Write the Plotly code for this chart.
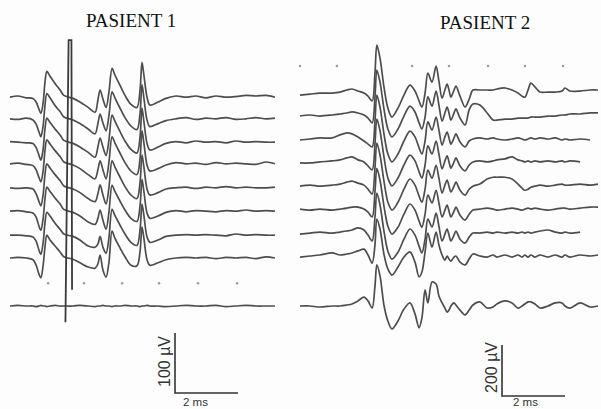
import plotly.graph_objects as go

# ---------------- DATA ----------------
panel_titles = ["PASIENT 1", "PASIENT 2"]

# Panel 1 – sample times (ms) shared by all sweeps, amplitudes in µV
p1_time_ms = [0.00, 0.25, 0.51, 0.73, 0.83, 0.92, 0.98, 1.05, 1.11, 1.17, 1.27, 1.43, 1.59, 1.71,
              2.00, 2.22, 2.48, 2.70, 2.79, 2.86, 2.95, 3.05, 3.14, 3.24, 3.33, 3.49, 3.65, 3.84,
              4.03, 4.13, 4.19, 4.25, 4.35, 4.44, 4.70, 4.95, 5.27, 5.59, 5.90, 6.22, 6.54, 6.86,
              7.17, 7.49, 7.81, 8.13, 8.41]
p1_sweep1 = [0, 2, -1, -2, -8, -20, -27, -10, 25, 43, 35, 23, 12, 3, -2, -8, -17, -25, -5, 12, -3, -17, 8, 48,
             37, 20, 3, -12, -17, 13, 58, 37, 0, -13, -8, -2, 2, 0, 2, -1, 2, 0, 1, 3, 2, 3, 0]
p1_sweep2 = [0, -1, 1, -2, -9, -22, -30, -12, 22, 42, 35, 22, 12, 3, -2, -8, -17, -25, -8, 8, -7, -20, 5, 45,
             35, 18, 2, -12, -18, 10, 57, 35, -2, -13, -8, -3, 0, 2, -1, 1, 0, 2, -1, 0, 2, 0, 1]
p1_sweep3 = [1, 0, -1, -2, -9, -22, -30, -12, 22, 40, 33, 22, 12, 3, -2, -8, -17, -25, -8, 7, -8, -22, 3, 45,
             35, 18, 2, -12, -18, 10, 57, 35, -2, -13, -8, -2, 1, -1, 2, 0, 1, -1, 2, 0, 1, 0, 0]
p1_sweep4 = [0, 1, -1, -3, -10, -23, -30, -12, 22, 40, 33, 22, 12, 3, -2, -8, -18, -25, -10, 5, -10, -25, 2, 45,
             35, 18, 2, -12, -18, 10, 55, 35, -2, -12, -8, -2, 2, 0, 1, -1, 2, 0, 1, 0, -1, 3, 0]
p1_sweep5 = [0, -1, 0, -2, -10, -23, -30, -12, 22, 40, 33, 22, 12, 3, -2, -8, -18, -23, -10, 5, -12, -27, 0, 45,
             35, 18, 2, -12, -18, 10, 55, 35, -2, -12, -8, -2, 0, 1, -1, 1, 0, 2, 0, 1, 0, 0, 1]
p1_sweep6 = [0, 1, -1, -3, -10, -25, -32, -13, 20, 40, 33, 22, 12, 3, -2, -8, -18, -22, -12, 2, -15, -30, -2, 43,
             33, 17, 2, -12, -17, 10, 53, 33, -3, -12, -8, -2, 1, -1, 1, 0, -1, 1, 0, 2, 0, 1, 0]
p1_sweep7 = [0, 0, -1, -3, -10, -25, -32, -13, 20, 38, 32, 20, 10, 2, -2, -8, -18, -20, -15, -2, -20, -30, -5, 43,
             33, 17, 2, -12, -17, 10, 52, 33, -3, -12, -8, -2, 0, 1, 0, 1, 0, -1, 2, 0, 1, 0, 0]
p1_sweep8 = [0, 1, 0, -3, -12, -27, -33, -13, 18, 38, 30, 20, 10, 2, -2, -8, -15, -17, -10, 5, -20, -32, -8, 45,
             33, 17, 2, -12, -13, 12, 52, 33, -3, -12, -8, -3, 0, 1, 0, 1, -1, 1, 0, 1, -1, 2, 0]
p1_reference = [0, 1, 0, 0, -1, 0, 1, 0, 0, -1, 0, 1, 0, 0, 0, 1, 0, -1, 0, 0, 1, 0, 0, -1, 0,
                0, 1, 0, 0, -1, 0, 0, 1, 0, 0, -1, 0, 1, 0, 0, 1, -1, 0, 1, 0, 0, 0]
# stimulus artefact (ms, µV on panel-1 axis)
p1_artifact_ms = [1.76, 1.86, 1.95, 1.97]
p1_artifact_uv = [-27, 443, 443, 27]

# Panel 2 – sample times (ms) and amplitudes (µV)
p2_time_ms = [0.00, 0.32, 0.63, 1.02, 1.27, 1.49, 1.65, 1.84, 2.03, 2.16, 2.29, 2.38, 2.44, 2.54, 2.67,
              2.79, 2.92, 3.11, 3.30, 3.49, 3.65, 3.78, 3.87, 3.97, 4.06, 4.19, 4.32, 4.41, 4.51, 4.60,
              4.67, 4.73, 4.79, 4.89, 4.95, 5.08, 5.24, 5.37, 5.49, 5.71, 5.94, 6.13, 6.25, 6.51, 6.73,
              6.92, 7.05, 7.14, 7.24, 7.33, 7.46, 7.62, 7.87, 8.10, 8.32, 8.41, 8.57, 8.89, 9.21, 9.46]
p2_sweep1 = [-8, -4, 0, 0, 4, 12, 16, 8, 0, -12, -31, 78, 188, 137, 20, -59, -94, -59, -8, 31, 8, -31, -55, 0,
             78, 43, 106, 47, -20, 12, 35, 12, -16, 12, 27, -12, -55, -24, 12, 12, 12, 12, 16, 20, 12, 0,
             -12, -16, 12, 39, 24, 4, 4, 4, 8, 20, 8, 8, 12, 12]
p2_sweep2 = [-4, 0, -4, 0, 4, 8, 12, 8, 0, -12, -31, 71, 176, 129, 20, -55, -86, -55, -4, 35, 12, -31, -55, -8,
             71, 35, 94, 39, -24, 8, 31, 8, -20, 8, 24, -12, -39, 20, 43, 39, 8, -20, -20, -16, -16, -12,
             -12, -12, -12, -8, -8, -8, -4, -4, 0, 0, 4, 4, 8, 8]
p2_sweep3 = [-4, 0, 4, 4, 16, 24, 20, 8, -8, -20, -31, 71, 172, 125, 16, -59, -90, -59, -8, 31, 8, -35, -59, -8,
             67, 35, 86, 35, -24, 8, 27, 4, -20, 4, 20, -12, -31, -8, 0, 4, 0, 4, 0, -4, 0, 4, 0, -4, 0, 4,
             0, 4, 0, 4, -4, 0, -4, 0, -4, None]
p2_sweep4 = [-4, -4, 0, 4, 8, 16, 20, 8, 0, -16, -31, 71, 168, 122, 16, -63, -94, -63, -12, 27, 4, -39, -63, -12,
             63, 31, 82, 31, -27, 4, 24, 0, -24, 0, 16, -16, -35, -12, 0, 4, 0, 4, 8, 12, 20, 8, 4, 0, 4, 0,
             4, 0, 4, 0, 4, 0, 4, 0, None, None]
p2_sweep5 = [-4, 0, -4, 0, 4, 12, 16, 8, 0, -16, -35, 67, 165, 118, 12, -67, -98, -67, -16, 24, 0, -43, -67, -16,
             59, 27, 78, 27, -31, 0, 20, -4, -27, -4, 12, -20, -39, -16, -4, 4, 24, 31, 31, 31, 24, 4, -12,
             -20, -16, -8, -4, 0, -4, 0, 4, 0, 0, 4, 0, 4]
p2_sweep6 = [0, -4, 0, -4, 0, 4, 8, 8, 0, -12, -31, 67, 160, 114, 8, -67, -98, -71, -20, 20, -4, -47, -71, -20,
             55, 24, 74, 24, -31, -4, 16, -8, -31, -8, 8, -24, -43, -20, -4, 0, 4, 0, -4, 0, 4, 0, -4, 0, 4,
             0, 4, 0, -4, 0, 4, 4, 0, 4, 8, 8]
p2_sweep7 = [-4, 0, 4, 0, 4, 8, 12, 20, 12, -8, -31, 63, 157, 110, 4, -71, -102, -75, -24, 16, -8, -51, -78, -24,
             55, 24, 78, 27, -31, -4, 16, -8, -31, -8, 8, -24, -39, -16, 0, 0, 4, 0, 4, 0, 4, 0, 4, 0, 4, 0,
             4, 8, 12, 4, 0, 4, 0, 4, None, None]
p2_sweep8 = [0, 4, 8, 16, 8, 12, 16, 24, 31, 8, -24, 47, 149, 110, 8, -47, -71, -39, 0, 20, -20, -78, -59, 20,
             94, 39, 98, 47, 8, -12, 4, -8, -16, 0, 4, -20, -31, -8, 12, 4, 0, 8, 0, 8, 0, 8, 0, 8, 0, 8,
             0, 8, 0, 8, 0, 8, 0, 8, 4, 8]
p2_sweep9 = [0, 0, -4, 0, 0, 4, 8, 20, 35, 20, -8, 78, 161, 118, 0, -59, -90, -59, -12, 12, -31, -86, -47, 63,
             12, 94, 86, 39, 12, -8, -24, -16, 0, 12, 4, -16, -35, -16, 4, 16, -8, -4, 8, 20, 12, -8, 0, 8,
             16, 16, 8, -8, 0, 12, 12, 0, -8, 12, -4, 0]

# calibration bars
p1_cal_ms, p1_cal_uv = 2, 100
p2_cal_ms, p2_cal_uv = 2, 200
p1_cal_labels = ["100 µV", "2 ms"]
p2_cal_labels = ["200 µV", "2 ms"]

# faint grid dots of the recording paper
p1_dots_ms = [1.21, 2.35, 3.56, 4.73, 5.97, 7.21]
p2_dots_ms = [0.00, 1.17, 3.56, 4.73, 5.97, 7.14, 8.35]

# ---------------- LAYOUT CONSTANTS ----------------
W, H = 601, 409
PX_PER_MS = 31.5
P1_PX_PER_UV = 0.6           # 100 µV = 60 px
P2_PX_PER_UV = 51 / 200      # 200 µV = 51 px
P1_X0, P2_X0, Y0 = 10, 300, 306   # pixel position of t=0 / 0 µV
p1_offsets = [348, 312, 273, 237, 197, 158, 118, 80]   # stacking of sweeps (µV)
p2_offsets = [835, 749, 655, 565, 474, 380, 286, 192]
LINE = dict(color="#4d4d4d", width=1.7, shape="spline", smoothing=0.9)

fig = go.Figure()

p1_sweeps = [p1_sweep1, p1_sweep2, p1_sweep3, p1_sweep4, p1_sweep5, p1_sweep6, p1_sweep7, p1_sweep8]
for off, sw in zip(p1_offsets, p1_sweeps):
    fig.add_trace(go.Scatter(x=p1_time_ms, y=[off + v for v in sw], mode="lines", line=LINE,
                             xaxis="x", yaxis="y", hoverinfo="skip"))
fig.add_trace(go.Scatter(x=p1_time_ms, y=p1_reference, mode="lines", line=LINE,
                         xaxis="x", yaxis="y", hoverinfo="skip"))
fig.add_trace(go.Scatter(x=p1_artifact_ms, y=p1_artifact_uv, mode="lines",
                         line=dict(color="#3a3a3a", width=1.8), xaxis="x", yaxis="y"))

p2_sweeps = [p2_sweep1, p2_sweep2, p2_sweep3, p2_sweep4, p2_sweep5, p2_sweep6, p2_sweep7, p2_sweep8]
for off, sw in zip(p2_offsets, p2_sweeps):
    fig.add_trace(go.Scatter(x=p2_time_ms, y=[None if v is None else off + v for v in sw], mode="lines",
                             line=LINE, xaxis="x2", yaxis="y2", connectgaps=False, hoverinfo="skip"))
fig.add_trace(go.Scatter(x=p2_time_ms, y=p2_sweep9, mode="lines", line=LINE,
                         xaxis="x2", yaxis="y2", hoverinfo="skip"))

# grid dots
fig.add_trace(go.Scatter(x=p1_dots_ms, y=[38] * len(p1_dots_ms), mode="markers",
                         marker=dict(size=2.5, color="#9a9a9a"), xaxis="x", yaxis="y"))
fig.add_trace(go.Scatter(x=p2_dots_ms, y=[941] * len(p2_dots_ms), mode="markers",
                         marker=dict(size=2.5, color="#9a9a9a"), xaxis="x2", yaxis="y2"))

# calibration bars
c1x, c1y = (175 - P1_X0) / PX_PER_MS, (Y0 - 393) / P1_PX_PER_UV
fig.add_trace(go.Scatter(x=[c1x, c1x, c1x + p1_cal_ms], y=[c1y + p1_cal_uv, c1y, c1y], mode="lines",
                         line=dict(color="#333", width=1.6), xaxis="x", yaxis="y"))
c2x, c2y = (502 - P2_X0) / PX_PER_MS, (Y0 - 396) / P2_PX_PER_UV
fig.add_trace(go.Scatter(x=[c2x, c2x, c2x + p2_cal_ms], y=[c2y + p2_cal_uv, c2y, c2y], mode="lines",
                         line=dict(color="#333", width=1.6), xaxis="x2", yaxis="y2"))

def px(x, y):
    return dict(x=x / W, y=1 - y / H, xref="paper", yref="paper",
                xanchor="center", yanchor="middle", showarrow=False)

ann = []
tf = dict(family="Liberation Serif", size=19, color="#111")
ann.append(dict(text=panel_titles[0], **px(131, 20), font=tf))
ann.append(dict(text=panel_titles[1], **px(485, 22), font=tf))
sf = dict(family="Liberation Sans", size=16, color="#333")
ann.append(dict(text=p1_cal_labels[0], **px(164, 362), textangle=-90, font=sf))
ann.append(dict(text=p1_cal_labels[1], **px(195, 402), font=dict(sf, size=11.5)))
ann.append(dict(text=p2_cal_labels[0], **px(491, 368), textangle=-90, font=sf))
ann.append(dict(text=p2_cal_labels[1], **px(525, 402), font=dict(sf, size=11.5)))

ax_common = dict(visible=False, showgrid=False, zeroline=False, domain=[0, 1], fixedrange=True)
fig.update_layout(
    width=W, height=H, margin=dict(l=0, r=0, t=0, b=0),
    paper_bgcolor="#fdfdfd", plot_bgcolor="#fdfdfd", showlegend=False,
    xaxis=dict(ax_common, range=[(0 - P1_X0) / PX_PER_MS, (W - P1_X0) / PX_PER_MS]),
    yaxis=dict(ax_common, range=[(Y0 - H) / P1_PX_PER_UV, Y0 / P1_PX_PER_UV]),
    xaxis2=dict(ax_common, overlaying="x", range=[(0 - P2_X0) / PX_PER_MS, (W - P2_X0) / PX_PER_MS]),
    yaxis2=dict(ax_common, overlaying="y", range=[(Y0 - H) / P2_PX_PER_UV, Y0 / P2_PX_PER_UV]),
    annotations=ann,
)

fig.write_html("out.html", config={"displayModeBar": False},
               post_script="document.body.style.margin='0';document.body.style.overflow='hidden';")
